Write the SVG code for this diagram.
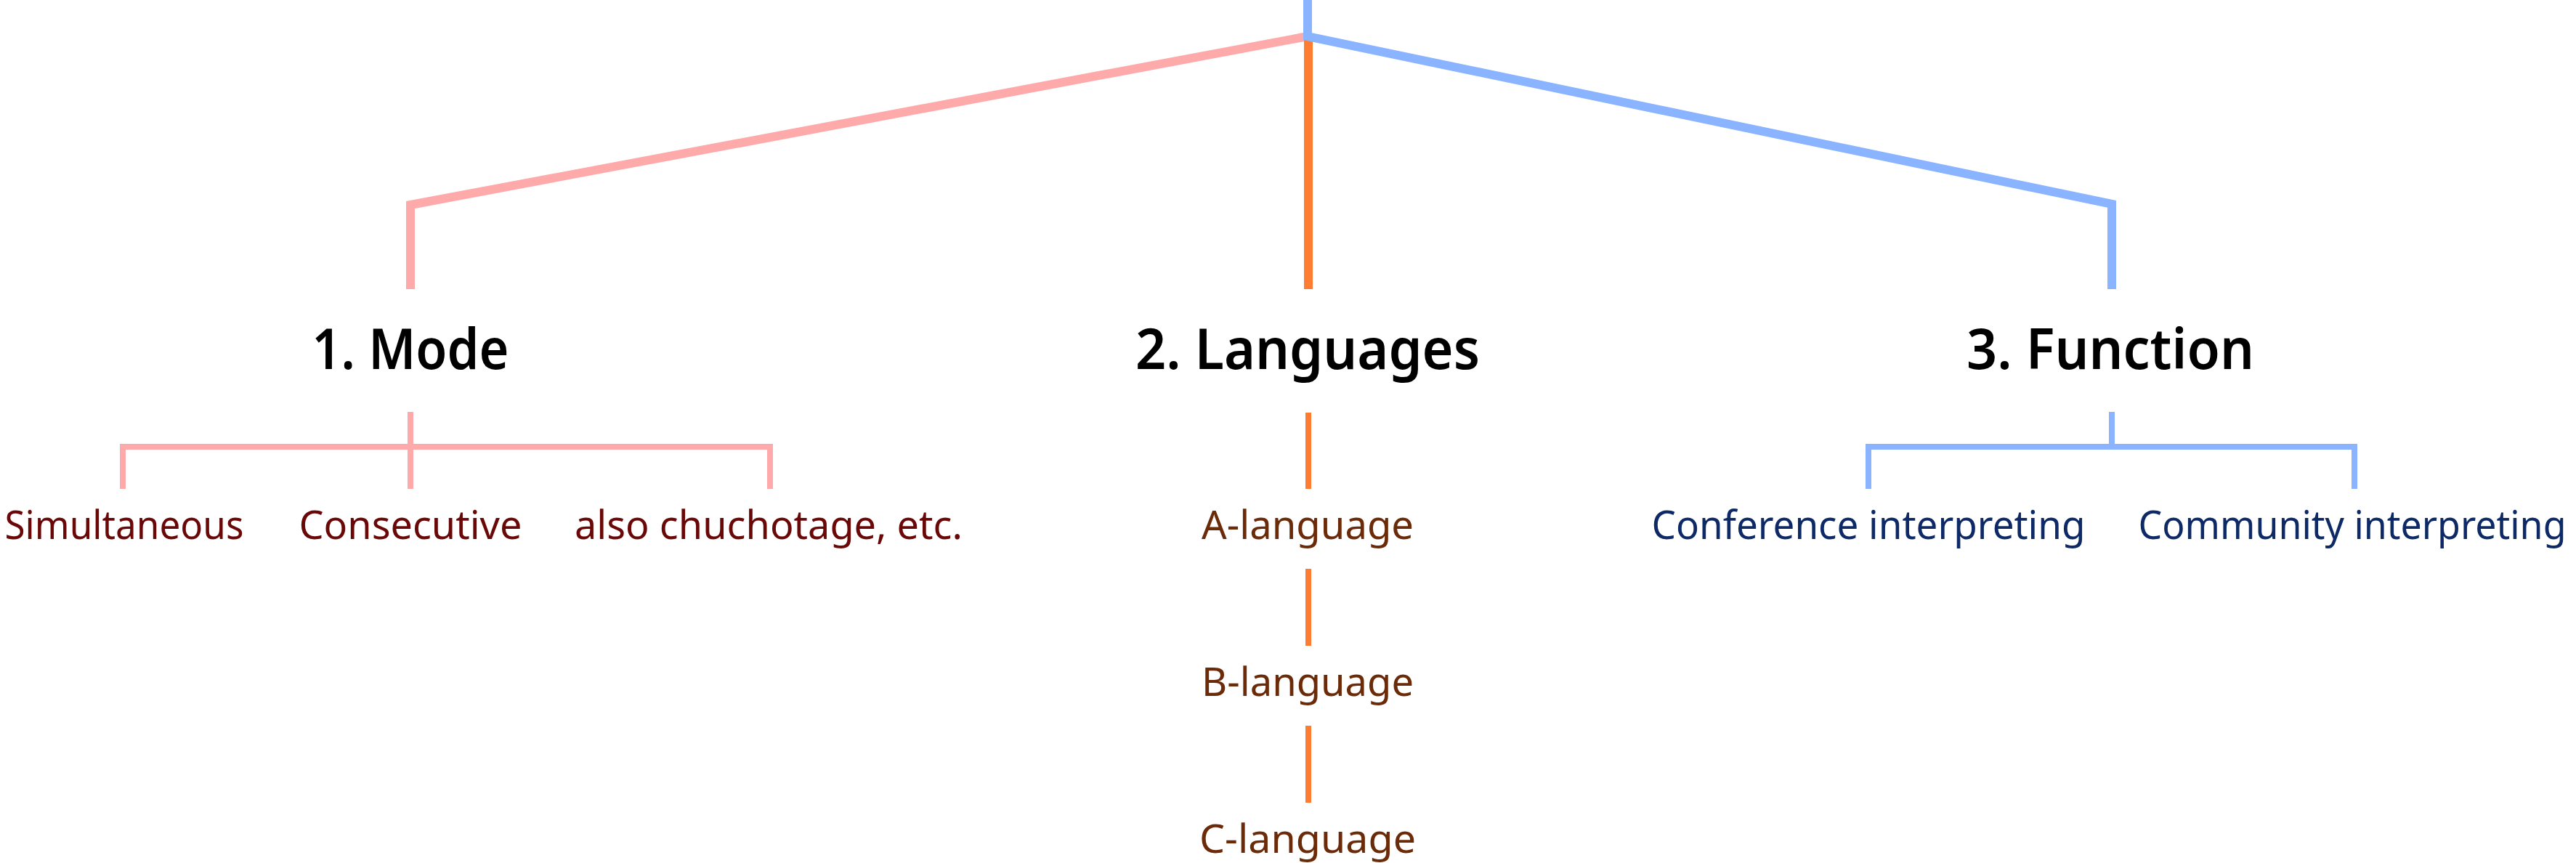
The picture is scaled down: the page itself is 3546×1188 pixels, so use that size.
<svg xmlns="http://www.w3.org/2000/svg" width="3546" height="1188" viewBox="0 0 3546 1188">
<style>
.bg{fill:#ffffff}
.c{fill:none;stroke-linecap:butt;stroke-linejoin:miter}
.pink{stroke:#ffaaaa}
.orange{stroke:#ff7c33}
.blue{stroke:#8ab4ff}
.main{stroke-width:12}
.sub{stroke-width:8}
.h{font-family:"Noto Sans","Liberation Sans",Arial,sans-serif;font-weight:600;font-size:78px;fill:#000000;text-anchor:middle}
.t{font-family:"Noto Sans","Liberation Sans",Arial,sans-serif;font-size:54px;text-anchor:middle}
.tm{fill:#6a0808}
.tl{fill:#6b2a08}
.tf{fill:#0e2a66}
</style>
<rect class="bg" x="0" y="0" width="3546" height="1188"/>
<g id="connectors">
  <path class="c pink main" d="M565 398 V282 L1800 50"/>
  <path class="c orange main" d="M1801 50 V398"/>
  <path class="c blue main" d="M1800 0 V50 L2907 281 V398"/>
  <path class="c pink sub" d="M565 567 V615 M169 673 V615 H1060 V673 M565 615 V673"/>
  <path class="c orange sub" d="M1801 568 V673 M1801 783 V889 M1801 999 V1105"/>
  <path class="c blue sub" d="M2907 567 V615 M2572 673 V615 H3241 V673"/>
</g>
<g id="node-mode"><text class="h" x="565" y="508" textLength="271" lengthAdjust="spacingAndGlyphs">1. Mode</text></g>
<g id="node-languages"><text class="h" x="1800" y="508" textLength="474" lengthAdjust="spacingAndGlyphs">2. Languages</text></g>
<g id="node-function"><text class="h" x="2905" y="508" textLength="396" lengthAdjust="spacingAndGlyphs">3. Function</text></g>
<g id="node-simultaneous"><text class="t tm" x="171" y="742" textLength="329" lengthAdjust="spacingAndGlyphs">Simultaneous</text></g>
<g id="node-consecutive"><text class="t tm" x="565" y="742" textLength="307" lengthAdjust="spacingAndGlyphs">Consecutive</text></g>
<g id="node-chuchotage"><text class="t tm" x="1058" y="742" textLength="534" lengthAdjust="spacingAndGlyphs">also chuchotage, etc.</text></g>
<g id="node-a"><text class="t tl" x="1800" y="742" textLength="292" lengthAdjust="spacingAndGlyphs">A-language</text></g>
<g id="node-b"><text class="t tl" x="1800" y="958" textLength="292" lengthAdjust="spacingAndGlyphs">B-language</text></g>
<g id="node-c"><text class="t tl" x="1800" y="1174" textLength="298" lengthAdjust="spacingAndGlyphs">C-language</text></g>
<g id="node-conference"><text class="t tf" x="2572" y="742" textLength="597" lengthAdjust="spacingAndGlyphs">Conference interpreting</text></g>
<g id="node-community"><text class="t tf" x="3238" y="742" textLength="589" lengthAdjust="spacingAndGlyphs">Community interpreting</text></g>
</svg>
